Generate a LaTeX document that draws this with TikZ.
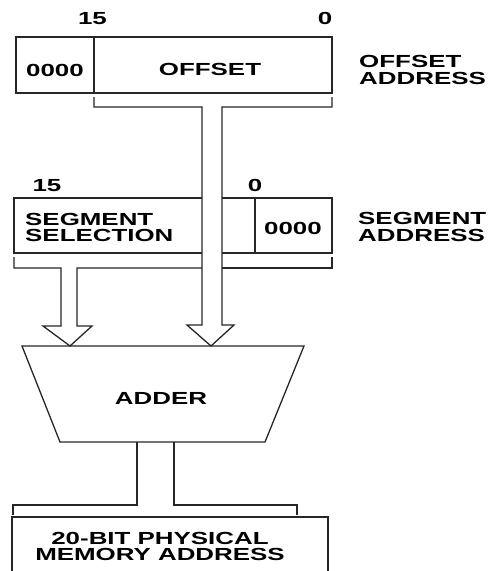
\documentclass[tikz,border=0pt]{standalone}
\usepackage{fontspec}
\setmainfont{Liberation Sans}[FakeStretch=1.48]
\begin{document}
\begin{tikzpicture}[x=1pt,y=-1pt,
  lbl/.style={font=\fontsize{17.5}{16.5}\selectfont\bfseries, inner sep=0pt, align=center},
  lblL/.style={lbl, align=left, anchor=west},
  wire/.style={line width=1.3pt, line join=miter, draw=black!85}]
\useasboundingbox (0,0) rectangle (490,571);
\clip (0,0) rectangle (490,571);

% ---------- key coordinates ----------
% offset register
\coordinate (offNW) at (16,37);
\coordinate (offSE) at (332,93);
\coordinate (offDivT) at (94,37);
\coordinate (offDivB) at (94,93);
% segment register
\coordinate (segL) at (14,198);
\coordinate (segR) at (332,198);
\coordinate (segBL) at (14,253);
\coordinate (segBR) at (332,253);
\coordinate (segDivT) at (255,198);
\coordinate (segDivB) at (255,253);
% adder
\coordinate (addTL) at (22,346);
\coordinate (addTR) at (304,346);
\coordinate (addBR) at (265,442);
\coordinate (addBL) at (60,442);
% physical address box
\coordinate (phyTL) at (12,517);
\coordinate (phyTR) at (328,517);

% ---------- offset register ----------
\draw[wire] (offNW) rectangle (offSE);
\draw[wire] (offDivT) -- (offDivB);
\node[lbl] (n15a) at (92.5,18.5) {15};
\node[lbl] (n0a) at (325,18.5) {0};
\node[lbl] (z1) at (55,70) {0000};
\node[lbl] (off) at (210,69) {OFFSET};
\node[lblL] (offaddr) at (359,70) {OFFSET\\ADDRESS};

% ---------- offset broad arrow ----------
\draw[wire] (94,97) -- (94,107) -- (202,107) -- (202,325) -- (187,325)
  -- (211,346) -- (234,325) -- (222,325) -- (222,107) -- (332,107) -- (332,97);

% ---------- segment register ----------
\draw[wire] (202,198) -- (segL) -- (segBL) -- (202,253);
\draw[wire] (222,198) -- (segR) -- (segBR) -- (222,253);
\draw[wire] (segDivT) -- (segDivB);
\node[lbl] (n15b) at (47,185.5) {15};
\node[lbl] (n0b) at (255,185.5) {0};
\node[lblL] (segsel) at (25,227.5) {SEGMENT\\SELECTION};
\node[lbl] (z2) at (293,228.5) {0000};
\node[lblL] (segaddr) at (358,227) {SEGMENT\\ADDRESS};

% ---------- segment broad arrow ----------
\draw[wire] (14,257) -- (14,268) -- (61,268) -- (61,326) -- (43,326)
  -- (70,346) -- (92,326) -- (77,326) -- (77,268) -- (202,268);
\draw[wire] (222,268) -- (332,268) -- (332,257);

% ---------- adder ----------
\draw[wire] (addTL) -- (addTR) -- (addBR) -- (addBL) -- cycle;
\node[lbl] (adder) at (161,398.5) {ADDER};

% ---------- output broad connector ----------
\draw[wire] (13,515) -- (13,505) -- (137,505) -- (137,442);
\draw[wire] (174,442) -- (174,505) -- (297,505) -- (297,515);

% ---------- physical address ----------
\draw[wire] (12,585) -- (phyTL) -- (phyTR) -- (328,585);
\node[lbl] (phys) at (160,546.5) {20-BIT PHYSICAL\\MEMORY ADDRESS};
\end{tikzpicture}
\end{document}
